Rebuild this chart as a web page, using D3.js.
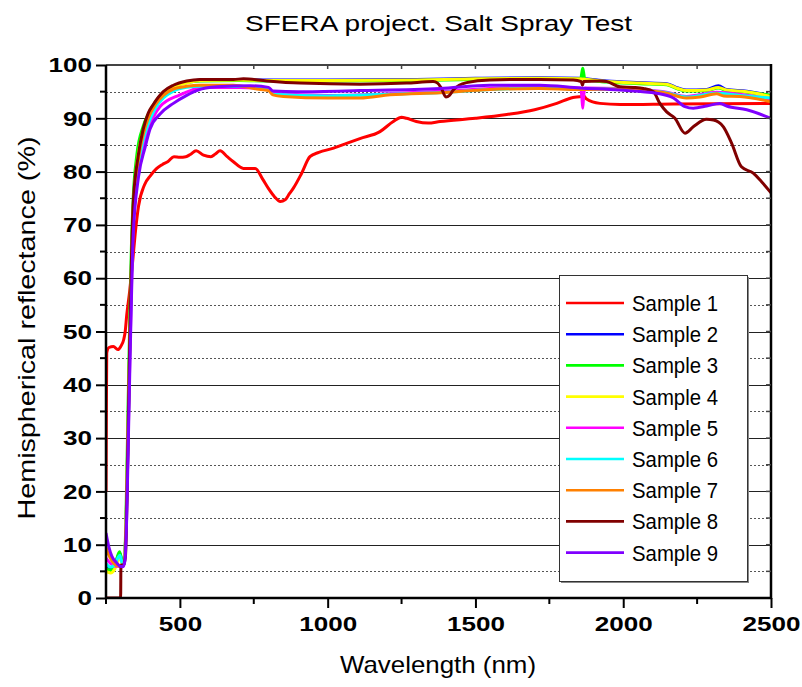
<!DOCTYPE html>
<html><head><meta charset="utf-8">
<script src="https://cdn.jsdelivr.net/npm/d3@7/dist/d3.min.js"></script>
<style>body{margin:0;background:#fff}svg{display:block}</style>
</head><body><svg id="c" width="802" height="687"></svg>
<script>
const title = "SFERA project. Salt Spray Test";
const xTitle = "Wavelength (nm)";
const yTitle = "Hemispherical reflectance (%)";
const xTicks = [500, 1000, 1500, 2000, 2500];
const yTicks = [0, 10, 20, 30, 40, 50, 60, 70, 80, 90, 100];
const sampleNames = ["Sample 1","Sample 2","Sample 3","Sample 4","Sample 5","Sample 6","Sample 7","Sample 8","Sample 9"];
const sampleColors = ["#ff0000","#0000ff","#00ff00","#ffff00","#ff00ff","#00ffff","#ff8000","#800000","#8000ff"];

const sample1 = [[250,20],[251,32],[252.5,46],[260,47],[275,47.2],[290,46.6],[300,47.2],[310,48.5],[315,50],[320,53],[330,57.5],[340,63],[350,69],[360,73.5],[380,77.5],[400,79.2],[420,80.5],[440,81.3],[460,81.9],[480,82.8],[500,82.7],[520,82.8],[535,83.2],[555,83.9],[580,83.1],[605,82.8],[620,83.3],[636,83.9],[660,82.8],[680,81.9],[715,80.6],[755,80.6],[780,78.6],[800,76.8],[820,75.3],[840,74.4],[856,74.7],[870,75.8],[884,76.9],[912,79.7],[940,82.8],[970,83.6],[1020,84.4],[1064,85.3],[1109,86.2],[1177,87.5],[1222,89.4],[1250,90.2],[1267,90.0],[1300,89.4],[1340,89.1],[1380,89.4],[1500,90.0],[1606,90.7],[1700,91.6],[1775,92.8],[1830,93.9],[1858,94.1],[1863,94.4],[1876,93.6],[1921,92.8],[1990,92.6],[2170,92.7],[2500,92.8]];
const sample2 = [[250,6.2],[265,5.6],[280,6.2],[290,7.8],[297,8.4],[303,7],[309,6.2],[314,8],[320,19],[325,33],[331,50],[336,62],[342,73],[360,83.6],[376,87.6],[393,90.4],[416,92.9],[444,94.7],[478,96],[523,96.7],[568,97.2],[700,97.3],[800,97.2],[1000,97.2],[1300,97.3],[1500,97.5],[1718,97.6],[1850,97.5],[1944,97],[2057,96.7],[2147,96.5],[2185,95.7],[2214,95.3],[2282,95.4],[2322,96.1],[2350,95.4],[2418,95.1],[2500,94.2]];
const sample3 = [[250,5.5],[265,5.2],[280,6],[290,8],[296,8.7],[303,7.2],[309,6.3],[314,8.5],[320,22],[325,37],[331,54],[336,66],[342,75],[354,83],[376,88.5],[393,90.8],[416,93],[444,94.8],[478,96],[523,96.7],[568,97],[700,97.1],[800,97],[1000,97],[1300,97.1],[1500,97.3],[1718,97.4],[1856,97.3],[1860,98.6],[1863,99.4],[1866,98.6],[1870,97.3],[1944,96.8],[2057,96.5],[2147,96.3],[2185,95.5],[2214,95.1],[2282,95.2],[2322,95.7],[2350,95.2],[2418,94.9],[2500,94.3]];
const sample4 = [[250,5.0],[265,4.7],[280,5.5],[290,7.0],[297,7.6],[303,6.6],[309,6.2],[314,8],[320,19],[325,33],[331,50],[336,62],[342,73],[360,83.5],[376,87.5],[393,90.3],[416,92.8],[444,94.6],[478,95.9],[523,96.6],[568,97.1],[700,97.2],[800,97.1],[1000,97.1],[1300,97.2],[1500,97.4],[1718,97.5],[1850,97.4],[1944,96.9],[2057,96.6],[2147,96.4],[2185,95.6],[2214,95.2],[2282,95.3],[2322,95.8],[2350,95.3],[2418,95.0],[2500,94.1]];
const sample5 = [[250,7.5],[265,6.5],[280,6],[295,5.9],[305,5.8],[314,7.5],[320,17],[325,30],[331,46],[336,58],[342,70],[365,82],[393,87.8],[433,92.2],[500,94.4],[540,95.3],[568,95.8],[700,95.8],[800,95.5],[815,94.7],[1000,94.3],[1200,94.6],[1400,95.1],[1550,95.6],[1718,95.8],[1856,95.7],[1860,94],[1863,91.9],[1866,94],[1870,95.7],[1989,95.6],[2057,95.4],[2147,94.9],[2214,94.1],[2316,94.9],[2395,94.5],[2500,93.5]];
const sample6 = [[250,6.5],[265,5.8],[280,6.3],[290,7.5],[297,8],[303,6.8],[309,6.2],[314,8],[320,18],[325,31],[331,48],[336,60],[342,71],[360,81.5],[376,86],[393,89],[416,91.8],[444,93.8],[478,95.1],[523,95.8],[568,96],[700,96],[800,95.5],[815,94.5],[1000,94.2],[1200,94.5],[1400,94.9],[1550,95.4],[1718,95.7],[1850,95.5],[1989,95.5],[2057,95.3],[2147,94.8],[2214,94],[2316,94.7],[2395,94.3],[2500,93.8]];
const sample7 = [[250,9.5],[260,8],[270,7],[280,6.3],[290,6],[300,6.1],[309,6],[314,8],[320,18.5],[325,32],[331,49],[336,61],[342,72],[360,82.5],[376,87],[393,90],[416,92.5],[444,94.3],[478,95.5],[523,96],[568,96.2],[681,96.2],[760,95.5],[800,95.2],[815,94.4],[850,94.1],[1000,93.8],[1109,93.8],[1211,94.4],[1380,94.8],[1549,95.4],[1718,95.6],[1850,95.4],[1989,95.5],[2057,95.3],[2147,94.7],[2214,93.8],[2260,94],[2316,94.6],[2340,94.2],[2395,94.1],[2500,93.1]];
const sample8 = [[250,0],[299.5,0],[300.5,6.2],[310,6.2],[316,8],[320,16],[325,31],[331,50],[336,63],[342,74],[359,83],[376,88],[393,91],[410,92.6],[444,95],[478,96.2],[523,97],[568,97.3],[681,97.3],[715,97.4],[794,97],[906,96.6],[1109,96.4],[1267,96.6],[1357,96.9],[1372,96.6],[1385,95.6],[1400,94],[1412,94.3],[1425,95.3],[1445,96.2],[1470,96.7],[1549,97.2],[1718,97.3],[1831,97.2],[1858,96.9],[1862,96.2],[1866,96.9],[1921,97],[1944,96.9],[1989,95.9],[2034,95.8],[2068,95.6],[2102,95],[2124,92.8],[2147,91.2],[2175,90],[2209,87.2],[2237,88.4],[2282,89.8],[2305,89.7],[2339,88.4],[2367,85.3],[2400,80.9],[2440,79.7],[2468,78.1],[2500,76]];
const sample9 = [[250,12.2],[260,9.5],[270,7.8],[286,6.6],[300,5.9],[308,5.9],[314,7],[320,15],[325,28],[331,44],[336,56],[342,68],[360,79],[382,84.5],[399,88],[433,90.8],[478,92.8],[523,94.3],[557,95.2],[625,95.9],[737,96.1],[800,95.8],[815,95.1],[900,95.0],[1109,95.2],[1380,95.6],[1549,96.2],[1718,96.2],[1854,95.7],[1989,95.3],[2113,94.7],[2170,93.8],[2209,92.2],[2237,91.9],[2282,92.3],[2327,92.8],[2350,92.3],[2418,91.6],[2500,90]];
const samples = [sample1, sample2, sample3, sample4, sample5, sample6, sample7, sample8, sample9];

const svg = d3.select("#c");
const L = 106, R = 771, T = 65, B = 598;
const x = d3.scaleLinear().domain([250, 2500]).range([L, R]);
const y = d3.scaleLinear().domain([0, 100]).range([B, T]);
const font = "Arial, 'Liberation Sans', sans-serif";

// grid
const minorY = d3.range(5, 100, 10);
svg.append("g").selectAll("line").data(minorY).join("line")
  .attr("x1", L).attr("x2", R).attr("y1", d => Math.round(y(d)) + 0.5).attr("y2", d => Math.round(y(d)) + 0.5)
  .attr("stroke", "#555").attr("stroke-width", 1).attr("stroke-dasharray", "2,2");
svg.append("g").selectAll("line").data(yTicks.filter(d => d > 0 && d < 100)).join("line")
  .attr("x1", L).attr("x2", R).attr("y1", d => Math.round(y(d)) + 0.5).attr("y2", d => Math.round(y(d)) + 0.5)
  .attr("stroke", "#222").attr("stroke-width", 1.2);

// curves
svg.append("clipPath").attr("id", "clip").append("rect").attr("x", L).attr("y", T - 6).attr("width", R - L).attr("height", B - T + 6);
const line = d3.line().x(d => x(d[0])).y(d => y(d[1])).curve(d3.curveMonotoneX);
const gC = svg.append("g").attr("clip-path", "url(#clip)");
samples.forEach((s, i) => {
  gC.append("path").attr("d", line(s)).attr("fill", "none")
    .attr("stroke", sampleColors[i]).attr("stroke-width", 3).attr("stroke-linejoin", "round");
});

// axes frame
svg.append("line").attr("x1", L).attr("x2", R).attr("y1", T).attr("y2", T).attr("stroke", "#444").attr("stroke-width", 2);
svg.append("line").attr("x1", R).attr("x2", R).attr("y1", T - 1).attr("y2", B + 1).attr("stroke", "#000").attr("stroke-width", 2.5);

const xAxis = d3.axisBottom(x).tickValues(xTicks).tickSize(10).tickPadding(8).tickFormat(d3.format("d"));
const gx = svg.append("g").attr("transform", `translate(0,${B})`).call(xAxis);
const yAxis = d3.axisLeft(y).tickValues(yTicks).tickSize(10).tickPadding(4).tickFormat(d3.format("d"));
const gy = svg.append("g").attr("transform", `translate(${L},0)`).call(yAxis);
[gx, gy].forEach(g => {
  g.select(".domain").attr("stroke", "#000").attr("stroke-width", 2.5);
  g.selectAll(".tick line").attr("stroke", "#000").attr("stroke-width", 2);
  g.selectAll(".tick text").attr("font-family", font).attr("font-weight", "bold").attr("font-size", 21).attr("fill", "#000")
    .attr("textLength", function() { return this.textContent.length * 14.5; })
    .attr("lengthAdjust", "spacingAndGlyphs");
});
gx.select(".domain").attr("d", `M${L},0H${R}`);
gy.select(".domain").attr("d", `M0,${B}V${T}`);

// minor ticks
const minorX = d3.range(250, 2501, 250).filter(d => d % 500 !== 0);
svg.append("g").selectAll("line").data(minorX).join("line")
  .attr("x1", d => x(d)).attr("x2", d => x(d)).attr("y1", B).attr("y2", B + 6).attr("stroke", "#000").attr("stroke-width", 2);
svg.append("g").selectAll("line").data(minorY).join("line")
  .attr("x1", L - 6).attr("x2", L).attr("y1", d => y(d)).attr("y2", d => y(d)).attr("stroke", "#000").attr("stroke-width", 2);
// inner ticks on top and right
svg.append("g").selectAll("line").data(d3.range(500, 2500, 250)).join("line")
  .attr("x1", d => x(d)).attr("x2", d => x(d)).attr("y1", T).attr("y2", T + 4).attr("stroke", "#444").attr("stroke-width", 1.5);
svg.append("g").selectAll("line").data(d3.range(5, 100, 5)).join("line")
  .attr("x1", R - 5).attr("x2", R).attr("y1", d => y(d)).attr("y2", d => y(d)).attr("stroke", "#444").attr("stroke-width", 1.5);

// titles
svg.append("text").attr("x", 438.5).attr("y", 31).attr("text-anchor", "middle")
  .attr("font-family", font).attr("font-size", 22)
  .attr("textLength", 387).attr("lengthAdjust", "spacingAndGlyphs").text(title);
svg.append("text").attr("x", 438).attr("y", 673).attr("text-anchor", "middle")
  .attr("font-family", font).attr("font-size", 24)
  .attr("textLength", 196).attr("lengthAdjust", "spacingAndGlyphs").text(xTitle);
svg.append("text").attr("transform", "translate(35,328) rotate(-90)").attr("text-anchor", "middle")
  .attr("font-family", font).attr("font-size", 24)
  .attr("textLength", 383).attr("lengthAdjust", "spacingAndGlyphs").text(yTitle);

// legend
const lg = svg.append("g");
lg.append("rect").attr("x", 561).attr("y", 277).attr("width", 188).attr("height", 306).attr("fill", "#888");
lg.append("rect").attr("x", 559.5).attr("y", 275.5).attr("width", 188).attr("height", 306).attr("fill", "#fff").attr("stroke", "#333").attr("stroke-width", 1);
sampleNames.forEach((n, i) => {
  const yy = 303 + i * 31.2;
  lg.append("line").attr("x1", 566).attr("x2", 624).attr("y1", yy).attr("y2", yy)
    .attr("stroke", sampleColors[i]).attr("stroke-width", 2.6);
  lg.append("text").attr("x", 632).attr("y", yy).attr("dy", "0.36em")
    .attr("font-family", font).attr("font-size", 22)
    .attr("textLength", 86).attr("lengthAdjust", "spacingAndGlyphs").text(n);
});
</script></body></html>
